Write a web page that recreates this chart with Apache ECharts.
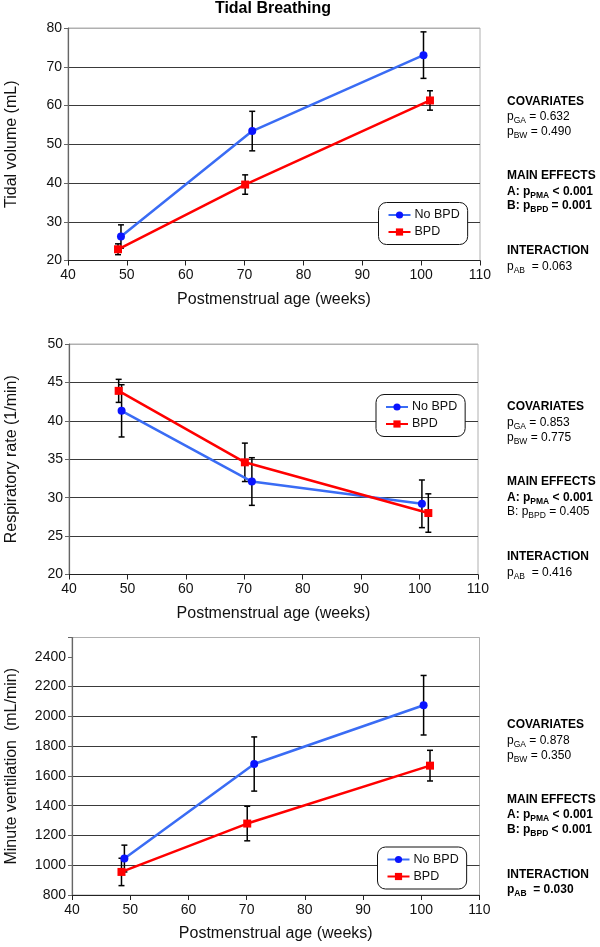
<!DOCTYPE html>
<html><head><meta charset="utf-8">
<script src="https://cdn.jsdelivr.net/npm/echarts@6/dist/echarts.min.js"></script>
<style>html,body{margin:0;padding:0;background:#fff}#c{width:600px;height:947px}</style>
</head><body><div id="c"></div>
<script>
// ---- data ----
const seriesNames = ['No BPD', 'BPD'];
const ageNoBPD = [49.0, 71.3, 100.4];
const ageBPD = [48.5, 70.1, 101.5];

const tvNoBPD = [26.2, 53.4, 73.0];
const tvNoBPDErr = [3.0, 5.1, 6.0];
const tvBPD = [22.9, 39.6, 61.3];
const tvBPDErr = [1.4, 2.5, 2.5];

const rrNoBPD = [41.3, 32.1, 29.2];
const rrNoBPDErr = [3.4, 3.1, 3.1];
const rrBPD = [43.9, 34.6, 28.0];
const rrBPDErr = [1.5, 2.5, 2.5];

const mvNoBPD = [1045, 1680, 2075];
const mvNoBPDErr = [90, 182, 200];
const mvBPD = [955, 1280, 1669];
const mvBPDErr = [92, 116, 103];

const xTicks = [40, 50, 60, 70, 80, 90, 100, 110];
const tvTicks = [20, 30, 40, 50, 60, 70, 80];
const rrTicks = [20, 25, 30, 35, 40, 45, 50];
const mvTicks = [800, 1000, 1200, 1400, 1600, 1800, 2000, 2200, 2400];
const mvAxisTop = 2530;

const chartTitle = 'Tidal Breathing';
const xName = 'Postmenstrual age (weeks)';
const yNames = ['Tidal volume (mL)', 'Respiratory rate (1/min)', 'Minute ventilation  (mL/min)'];

// annotation lines (rich text)
const annot1 = ['{b|COVARIATES}', '{r|p}{rs|GA}{r| = 0.632}', '{r|p}{rs|BW}{r| = 0.490}',
  '{b|MAIN EFFECTS}', '{b|A: p}{bs|PMA}{b| < 0.001}', '{b|B: p}{bs|BPD}{b| = 0.001}',
  '{b|INTERACTION}', '{r|p}{rs|AB}{r|  = 0.063}'];
const annot2 = ['{b|COVARIATES}', '{r|p}{rs|GA}{r| = 0.853}', '{r|p}{rs|BW}{r| = 0.775}',
  '{b|MAIN EFFECTS}', '{b|A: p}{bs|PMA}{b| < 0.001}', '{r|B: p}{rs|BPD}{r| = 0.405}',
  '{b|INTERACTION}', '{r|p}{rs|AB}{r|  = 0.416}'];
const annot3 = ['{b|COVARIATES}', '{r|p}{rs|GA}{r| = 0.878}', '{r|p}{rs|BW}{r| = 0.350}',
  '{b|MAIN EFFECTS}', '{b|A: p}{bs|PMA}{b| < 0.001}', '{b|B: p}{bs|BPD}{b| < 0.001}',
  '{b|INTERACTION}', '{b|p}{bs|AB}{b|  = 0.030}'];

// ---- layout ----
const FONT = '"Liberation Sans", Arial, Helvetica, sans-serif';
const grids = [
  {left: 68, right: 120, top: 28, height: 232.5},
  {left: 69, right: 122, top: 344, height: 230.5},
  {left: 72, right: 120.5, top: 637.5, height: 257.5}
];
const annotY = [
  [102.7, 118, 133, 177, 193, 207, 252, 268],
  [408, 424, 439, 483, 499, 513, 558, 574],
  [726, 741.7, 756.7, 800.3, 816, 830.7, 875.7, 890.7]
];
const legendPos = [
  {left: 378.5, top: 202.5},
  {left: 376, top: 394.5},
  {left: 377.5, top: 847}
];
const yNameGaps = [48, 49, 52];

const BLUE_LINE = '#3a6cf4';
const BLUE_MARK = '#0a14ff';
const RED = '#ff0000';
const GRIDC = '#3a3a3a';
const BORDER = '#b0b0b0';

function zip(xs, ys) { return xs.map((x, i) => [x, ys[i]]); }
function errData(xs, ys, es) { return xs.map((x, i) => [x, ys[i] - es[i], ys[i] + es[i]]); }

function errRender(params, api) {
  const x = api.value(0), lo = api.value(1), hi = api.value(2);
  const a = api.coord([x, lo]), b = api.coord([x, hi]);
  const w = 3;
  const st = {stroke: '#000', lineWidth: 1.5};
  return {type: 'group', children: [
    {type: 'line', shape: {x1: a[0], y1: a[1], x2: b[0], y2: b[1]}, style: st},
    {type: 'line', shape: {x1: a[0] - w, y1: a[1], x2: a[0] + w, y2: a[1]}, style: st},
    {type: 'line', shape: {x1: b[0] - w, y1: b[1], x2: b[0] + w, y2: b[1]}, style: st}
  ]};
}

const panels = [
  {ticks: tvTicks, max: tvTicks[tvTicks.length - 1], nb: tvNoBPD, nbe: tvNoBPDErr, b: tvBPD, be: tvBPDErr,
   split: [GRIDC, GRIDC, GRIDC, GRIDC, GRIDC, GRIDC, BORDER]},
  {ticks: rrTicks, max: rrTicks[rrTicks.length - 1], nb: rrNoBPD, nbe: rrNoBPDErr, b: rrBPD, be: rrBPDErr,
   split: [GRIDC, GRIDC, GRIDC, GRIDC, GRIDC, GRIDC, BORDER]},
  {ticks: mvTicks, max: mvAxisTop, nb: mvNoBPD, nbe: mvNoBPDErr, b: mvBPD, be: mvBPDErr,
   split: [GRIDC, GRIDC, GRIDC, GRIDC, GRIDC, GRIDC, GRIDC, GRIDC, 'rgba(0,0,0,0)', BORDER]}
];

const option = {
  animation: false,
  backgroundColor: '#fff',
  textStyle: {fontFamily: FONT},
  title: {text: chartTitle, left: 273, top: 1, textAlign: 'center', padding: 0,
    textStyle: {fontFamily: FONT, fontSize: 16, fontWeight: 'bold', color: '#000'}},
  grid: grids.map(g => Object.assign({show: true, borderColor: BORDER, borderWidth: 1, backgroundColor: '#fff',
    containLabel: false, outerBoundsMode: 'none'}, g)),
  xAxis: [], yAxis: [], series: [], legend: [], graphic: []
};

panels.forEach((p, i) => {
  option.xAxis.push({
    type: 'value', gridIndex: i, min: xTicks[0], max: xTicks[xTicks.length - 1], interval: xTicks[1] - xTicks[0],
    name: xName, nameLocation: 'middle', nameGap: 31,
    nameTextStyle: {fontFamily: FONT, fontSize: 16, color: '#111'},
    axisLine: {show: true, lineStyle: {color: '#222', width: 1}},
    axisTick: {show: true, length: 5, lineStyle: {color: '#222'}},
    axisLabel: {fontFamily: FONT, fontSize: 14, color: '#111', margin: 8},
    splitLine: {show: false}
  });
  const step = p.ticks[1] - p.ticks[0];
  const lastLabel = p.ticks[p.ticks.length - 1];
  option.yAxis.push({
    type: 'value', gridIndex: i, min: p.ticks[0], max: p.max, interval: step,
    name: yNames[i], nameLocation: 'middle', nameGap: yNameGaps[i], nameRotate: 90,
    nameTextStyle: {fontFamily: FONT, fontSize: 16, color: '#111'},
    axisLine: {show: true, lineStyle: {color: '#666', width: 1.2}},
    axisTick: {show: true, length: 4, lineStyle: {color: '#666'}},
    axisLabel: {fontFamily: FONT, fontSize: 14, color: '#111', margin: 6,
      formatter: v => (v <= lastLabel && p.ticks.indexOf(v) >= 0) ? String(v) : ''},
    splitLine: {show: true, lineStyle: {color: p.split, width: 1}}
  });
  option.series.push(
    {type: 'custom', xAxisIndex: i, yAxisIndex: i, renderItem: errRender, encode: {x: 0, y: [1, 2]},
     data: errData(ageNoBPD, p.nb, p.nbe), z: 1, silent: true},
    {type: 'custom', xAxisIndex: i, yAxisIndex: i, renderItem: errRender, encode: {x: 0, y: [1, 2]},
     data: errData(ageBPD, p.b, p.be), z: 1, silent: true},
    {type: 'line', name: seriesNames[0], xAxisIndex: i, yAxisIndex: i, data: zip(ageNoBPD, p.nb),
     symbol: 'circle', symbolSize: 8, z: 3,
     lineStyle: {color: BLUE_LINE, width: 2.5}, itemStyle: {color: BLUE_MARK}},
    {type: 'line', name: seriesNames[1], xAxisIndex: i, yAxisIndex: i, data: zip(ageBPD, p.b),
     symbol: 'rect', symbolSize: 8, z: 4,
     lineStyle: {color: RED, width: 2.5}, itemStyle: {color: RED}}
  );
  option.legend.push({
    data: seriesNames, orient: 'vertical', left: legendPos[i].left, top: legendPos[i].top,
    backgroundColor: '#fff', borderColor: '#111', borderWidth: 1, borderRadius: 8,
    padding: [6, 8, 6, 9], itemGap: 4, itemWidth: 22, itemHeight: 9,
    textStyle: {fontFamily: FONT, fontSize: 12.5, color: '#111', padding: [0, 0, 0, -1]},
    selectedMode: false
  });
  const lines = [annot1, annot2, annot3][i];
  lines.forEach((t, k) => {
    option.graphic.push({
      type: 'text', left: 507, top: annotY[i][k] - 7,
      style: {text: t, rich: {
        r: {fontFamily: FONT, fontSize: 12, color: '#111', verticalAlign: 'bottom'},
        rs: {fontFamily: FONT, fontSize: 8.5, color: '#111', verticalAlign: 'bottom', padding: [0, 0, -2, 0]},
        b: {fontFamily: FONT, fontSize: 12, fontWeight: 'bold', color: '#000', verticalAlign: 'bottom'},
        bs: {fontFamily: FONT, fontSize: 8.5, fontWeight: 'bold', color: '#000', verticalAlign: 'bottom', padding: [0, 0, -2, 0]}
      }}
    });
  });
});

const chart = echarts.init(document.getElementById('c'), null, {renderer: 'canvas'});
chart.setOption(option);
</script>
</body></html>
